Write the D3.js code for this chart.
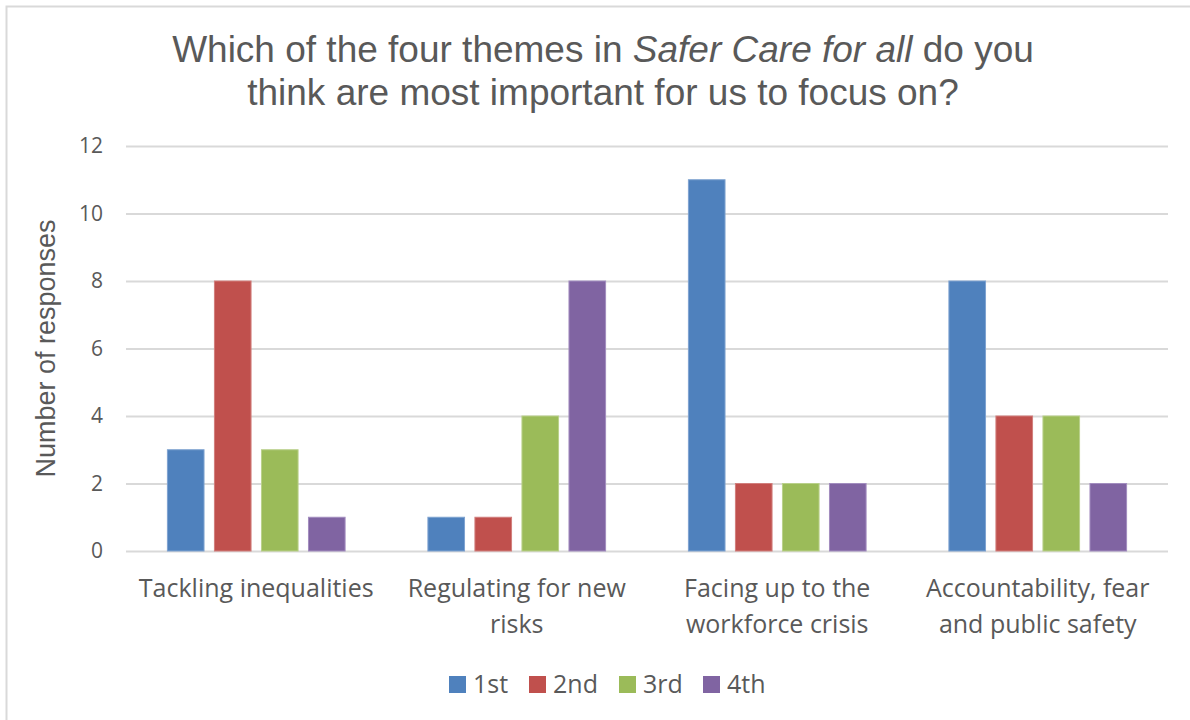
<!DOCTYPE html>
<html><head><meta charset="utf-8">
<script src="https://cdn.jsdelivr.net/npm/d3@7"></script>
<style>body{margin:0;background:#fff}svg{display:block}</style>
</head><body>
<script>
const categories = ["Tackling inequalities","Regulating for new risks","Facing up to the workforce crisis","Accountability, fear and public safety"];
const categoryLines = [["Tackling inequalities"],["Regulating for new","risks"],["Facing up to the","workforce crisis"],["Accountability, fear","and public safety"]];
const seriesNames = ["1st","2nd","3rd","4th"];
const first  = [3, 1, 11, 8];
const second = [8, 1, 2, 4];
const third  = [3, 4, 2, 4];
const fourth = [1, 8, 2, 2];
const yTicks = [0,2,4,6,8,10,12];
const colors = ["#4F81BD","#C0504D","#9BBB59","#8064A2"];
const strokes = ["#7EA2D0","#D17E7C","#B9D08A","#A28DBF"];
const seriesValues = [first, second, third, fourth];

(function(){
const W = 1190, H = 720;
const svg = d3.select("body").append("svg").attr("width", W).attr("height", H);
svg.append("rect").attr("x",6.5).attr("y",6.5).attr("width",W).attr("height",H)
  .attr("fill","#fff").attr("stroke","#d9d9d9").attr("stroke-width",2);

const pl = 126, pr = 1168, pt = 146, pb = 551;
const y = d3.scaleLinear().domain([0,12]).range([pb, pt]);
const x0 = d3.scaleBand().domain(categories).range([pl, pr]).padding(0);
const x1 = d3.scaleBand().domain(seriesNames).range([0, x0.bandwidth()]).paddingInner(0.2).paddingOuter(0.87);

const textCol = "#595959";
const labelFont = "'Open Sans', sans-serif";

const yAxis = d3.axisLeft(y).tickValues(yTicks).tickSize(-(pr-pl)).tickPadding(23).tickFormat(d3.format("d"));
const gy = svg.append("g").attr("transform",`translate(${pl},0)`).call(yAxis);
gy.select(".domain").remove();
gy.selectAll(".tick line").attr("stroke","#d9d9d9").attr("stroke-width",2);
gy.selectAll(".tick text").attr("fill",textCol).style("font-family",labelFont).style("font-size","21px");

categories.forEach((c, ci) => {
  const g = svg.append("g").attr("transform",`translate(${x0(c)},0)`);
  seriesNames.forEach((s, si) => {
    const v = seriesValues[si][ci];
    g.append("rect")
      .attr("x", x1(s)+0.5).attr("width", x1.bandwidth()-1)
      .attr("y", y(v)).attr("height", y(0)-y(v))
      .attr("fill", colors[si]).attr("stroke", strokes[si]).attr("stroke-width",1);
  });
});

const xAxis = d3.axisBottom(x0).tickSize(0).tickFormat("");
const gx = svg.append("g").attr("transform",`translate(0,${pb})`).call(xAxis);
gx.select(".domain").remove();
categories.forEach((c, ci) => {
  const t = svg.append("text").attr("text-anchor","middle").attr("fill",textCol)
    .style("font-family",labelFont).style("font-size","25px");
  categoryLines[ci].forEach((ln, li) => {
    t.append("tspan").attr("x", x0(c)+x0.bandwidth()/2).attr("y", 597 + li*36).text(ln);
  });
});

svg.append("text").attr("transform",`translate(55,${(pt+pb)/2}) rotate(-90)`)
  .attr("text-anchor","middle").attr("fill",textCol)
  .style("font-family","'Liberation Sans', Arial, sans-serif").style("font-size","27px")
  .text("Number of responses");

const title = svg.append("text").attr("text-anchor","middle").attr("fill",textCol)
  .style("font-family","'Liberation Sans', Arial, sans-serif").style("font-size","37px");
const l1 = title.append("tspan").attr("x",603).attr("y",62);
l1.append("tspan").text("Which of the four themes in ");
l1.append("tspan").style("font-style","italic").text("Safer Care for all");
l1.append("tspan").text(" do you");
title.append("tspan").attr("x",603).attr("y",105).text("think are most important for us to focus on?");

const legX = [449, 529, 619, 703];
const leg = svg.append("g");
seriesNames.forEach((s, si) => {
  leg.append("rect").attr("x",legX[si]).attr("y",676).attr("width",17).attr("height",17).attr("fill",colors[si]);
  leg.append("text").attr("x",legX[si]+24).attr("y",693).attr("fill",textCol)
    .style("font-family",labelFont).style("font-size","25px").text(s);
});
})();
</script>
</body></html>
